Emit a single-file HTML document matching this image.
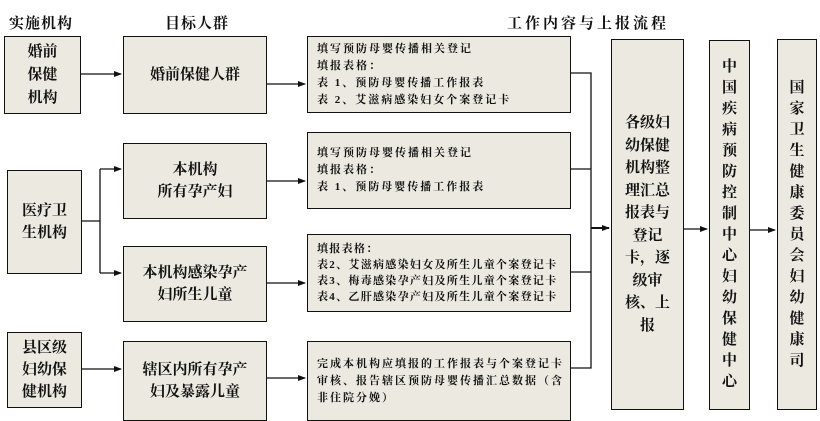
<!DOCTYPE html>
<html><head><meta charset="utf-8"><style>
body{margin:0;width:820px;height:415px;background:#fff;position:relative;overflow:hidden;font-family:"Liberation Serif","Noto Serif CJK SC",serif;font-weight:bold;color:#111}
.b{position:absolute;background:#ECE9E1;border:1.5px solid #111;box-sizing:border-box;display:flex;align-items:center;justify-content:center;text-align:center}
.t{position:absolute;font-size:15px;white-space:nowrap}
.c{justify-content:flex-start;text-align:left;font-size:11px;line-height:17px;padding-left:9px;letter-spacing:2px;white-space:nowrap}
.v{font-size:15px;line-height:22px}
svg{position:absolute;left:0;top:0}
</style></head><body>
<div class="t" style="left:9px;top:12px;letter-spacing:1px">实施机构</div>
<div class="t" style="left:165px;top:12px;letter-spacing:1px">目标人群</div>
<div class="t" style="left:507px;top:12px;letter-spacing:3px">工作内容与上报流程</div>

<div class="b v" style="left:4px;top:36px;width:77px;height:78px;line-height:23px">婚前<br>保健<br>机构</div>
<div class="b v" style="left:7px;top:170px;width:75px;height:104px">医疗卫<br>生机构</div>
<div class="b v" style="left:7px;top:332px;width:75px;height:76px">县区级<br>妇幼保<br>健机构</div>

<div class="b v" style="left:123px;top:36px;width:144px;height:78px">婚前保健人群</div>
<div class="b v" style="left:123px;top:143px;width:144px;height:76px">本机构<br>所有孕产妇</div>
<div class="b v" style="left:123px;top:246px;width:144px;height:76px">本机构感染孕产<br>妇所生儿童</div>
<div class="b v" style="left:123px;top:341px;width:144px;height:80px">辖区内所有孕产<br>妇及暴露儿童</div>

<div class="b c" style="left:307px;top:36px;width:264px;height:77px">填写预防母婴传播相关登记<br>填报表格：<br>表 1、预防母婴传播工作报表<br>表 2、艾滋病感染妇女个案登记卡</div>
<div class="b c" style="left:307px;top:132px;width:264px;height:77px">填写预防母婴传播相关登记<br>填报表格：<br>表 1、预防母婴传播工作报表</div>
<div class="b c" style="left:307px;top:234px;width:264px;height:78px;line-height:16px;letter-spacing:1.3px">填报表格：<br>表2、艾滋病感染妇女及所生儿童个案登记卡<br>表3、梅毒感染孕产妇及所生儿童个案登记卡<br>表4、乙肝感染孕产妇及所生儿童个案登记卡</div>
<div class="b c" style="left:307px;top:341px;width:264px;height:80px;align-items:flex-start;padding-top:14px">完成本机构应填报的工作报表与个案登记卡<br>审核、报告辖区预防母婴传播汇总数据（含<br>非住院分娩）</div>

<div class="b v" style="left:611px;top:39px;width:73px;height:371px;line-height:22.5px">各级妇<br>幼保健<br>机构整<br>理汇总<br>报表与<br>登记<br>卡，逐<br>级审<br>核、上<br>报</div>
<div class="b v" style="left:709px;top:40px;width:41px;height:370px;line-height:21px">中<br>国<br>疾<br>病<br>预<br>防<br>控<br>制<br>中<br>心<br>妇<br>幼<br>保<br>健<br>中<br>心</div>
<div class="b v" style="left:777px;top:39px;width:40px;height:371px;line-height:21px">国<br>家<br>卫<br>生<br>健<br>康<br>委<br>员<br>会<br>妇<br>幼<br>健<br>康<br>司</div>

<svg width="820" height="415">
<defs><marker id="a" markerWidth="8" markerHeight="8" refX="7" refY="4" orient="auto" markerUnits="userSpaceOnUse"><path d="M0,1 L8,4 L0,7z" fill="#111"/></marker></defs>
<g stroke="#111" stroke-width="1.3" fill="none">
<line x1="81" y1="74" x2="121" y2="74" marker-end="url(#a)"/>
<polyline points="82,221 100,221"/>
<polyline points="100,169 100,273"/>
<line x1="100" y1="169" x2="121" y2="169" marker-end="url(#a)"/>
<line x1="100" y1="273" x2="121" y2="273" marker-end="url(#a)"/>
<line x1="82" y1="369" x2="121" y2="369" marker-end="url(#a)"/>
<line x1="267" y1="84" x2="305" y2="84" marker-end="url(#a)"/>
<line x1="267" y1="181" x2="305" y2="181" marker-end="url(#a)"/>
<line x1="267" y1="283" x2="305" y2="283" marker-end="url(#a)"/>
<line x1="267" y1="378" x2="305" y2="378" marker-end="url(#a)"/>
<polyline points="571,73 591,73 591,368 571,368"/>
<line x1="571" y1="169" x2="591" y2="169"/>
<line x1="571" y1="272" x2="591" y2="272"/>
<line x1="591" y1="228" x2="609" y2="228" stroke-width="2" marker-end="url(#a)"/>
<line x1="684" y1="229" x2="707" y2="229" marker-end="url(#a)"/>
<line x1="750" y1="230" x2="775" y2="230" marker-end="url(#a)"/>
</g></svg>
</body></html>
